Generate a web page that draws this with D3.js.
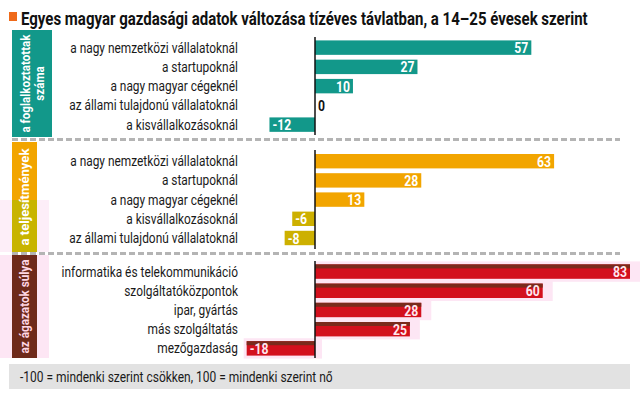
<!DOCTYPE html>
<html>
<head>
<meta charset="utf-8">
<script src="https://cdn.jsdelivr.net/npm/d3@7"></script>
<style>
  body { margin: 0; background: #fff; }
  text { font-family: "Roboto", "Liberation Sans", sans-serif; }
</style>
</head>
<body>
<div id="chart"></div>
<script>
// data
const titleText = "Egyes magyar gazdasági adatok változása tízéves távlatban, a 14–25 évesek szerint";
const noteText = "-100 = mindenki szerint csökken, 100 = mindenki szerint nő";

const groupNames = [["a foglalkoztatottak", "száma"], ["a teljesítmények"], ["az ágazatok súlya"]];

const cats1 = ["a nagy nemzetközi vállalatoknál", "a startupoknál", "a nagy magyar cégeknél", "az állami tulajdonú vállalatoknál", "a kisvállalkozásoknál"];
const vals1 = [57, 27, 10, 0, -12];

const cats2 = ["a nagy nemzetközi vállalatoknál", "a startupoknál", "a nagy magyar cégeknél", "a kisvállalkozásoknál", "az állami tulajdonú vállalatoknál"];
const vals2 = [63, 28, 13, -6, -8];

const cats3 = ["informatika és telekommunikáció", "szolgáltatóközpontok", "ipar, gyártás", "más szolgáltatás", "mezőgazdaság"];
const vals3 = [83, 60, 28, 25, -18];

const w = 640, h = 397;

const svg = d3.select("#chart").append("svg")
  .attr("width", w)
  .attr("height", h);

// measure a string so it can be squeezed to the condensed width of the original
function measure(str, size, weight) {
  const t = svg.append("text").attr("font-size", size).attr("font-weight", weight).text(str);
  const len = t.node().getComputedTextLength();
  t.remove();
  return len;
}

// condensed text: a group that is scaled on x only
function ctext(parent, x, y, str, size, weight, sx, anchor, fill) {
  const g = parent.append("g").attr("transform", `translate(${x},${y}) scale(${sx},1)`);
  g.append("text")
    .attr("text-anchor", anchor)
    .attr("font-size", size).attr("font-weight", weight).attr("fill", fill)
    .text(str);
  return g;
}

const labSx = 168 / measure("a nagy nemzetközi vállalatoknál", 14.5, "normal");
const valSx = 14 / measure("57", 15, "bold");

// x scale: zero line at 315
const xScale = d3.scaleLinear().domain([0, 83]).range([315, 630]);

// title
svg.append("rect").attr("x", 9).attr("y", 12).attr("width", 8).attr("height", 9).attr("fill", "#ef6a1a");
ctext(svg, 21, 25, titleText, 18, "bold", 567 / measure(titleText, 18, "bold"), "start", "#111");

// sections
const sections = [
  {cats: cats1, vals: vals1, name: groupNames[0], y0: 38, y1: 134.25, band: [12, 52, 30, 137], nameLen: 98,
   pos: "#12988a", neg: "#12988a", bandCol: ["#12988a"], txt: "#fff", valTxt: "#fff", axis: [37, 135]},
  {cats: cats2, vals: vals2, name: groupNames[1], y0: 151.6, y1: 247.6, band: [12, 37, 142, 252], nameLen: 97,
   pos: "#f2a500", neg: "#cdb000", bandCol: ["#f2a500", "#c8b400"], txt: "#fff", valTxt: "#fff", axis: [150, 249]},
  {cats: cats3, vals: vals3, name: groupNames[2], y0: 262, y1: 358, band: [12, 37, 255, 358], nameLen: 94,
   pos: "#d3101d", neg: "#d3101d", bandCol: ["#6e2a1a"], txt: "#ffd6e4", valTxt: "#ffe6ee", axis: [261, 358], halo: true}
];

// dashed separators
[139.5, 253.5].forEach(y => {
  svg.append("line")
    .attr("x1", 12).attr("x2", 620).attr("y1", y).attr("y2", y)
    .attr("stroke", "#b4b4b4").attr("stroke-width", 3)
    .attr("stroke-dasharray", "6,3");
});

sections.forEach((s) => {
  const g = svg.append("g");
  const yScale = d3.scaleBand().domain(s.cats).range([s.y0, s.y1])
    .paddingInner(0.25).paddingOuter(0.125);
  const data = s.cats.map((c, i) => ({cat: c, v: s.vals[i]}));

  // band on the left
  const [bx0, bx1, by0, by1] = s.band;
  if (s.halo) {
    g.append("rect").attr("x", 0).attr("y", by0).attr("width", bx1 + 12).attr("height", by1 - by0)
      .attr("fill", "#fde6f4");
  }
  if (s.bandCol.length === 2) {
    const mid = 200;
    g.append("rect").attr("x", 0).attr("y", mid).attr("width", bx1 + 12).attr("height", by1 - mid)
      .attr("fill", "#fdeef8");
    g.append("rect").attr("x", bx0).attr("y", by0).attr("width", bx1 - bx0).attr("height", mid - by0).attr("fill", s.bandCol[0]);
    g.append("rect").attr("x", bx0).attr("y", mid).attr("width", bx1 - bx0).attr("height", by1 - mid).attr("fill", s.bandCol[1]);
  } else {
    g.append("rect").attr("x", bx0).attr("y", by0).attr("width", bx1 - bx0).attr("height", by1 - by0).attr("fill", s.bandCol[0]);
  }
  const cx = (bx0 + bx1) / 2, cy = (by0 + by1) / 2;
  const nameSx = s.nameLen / measure(s.name[0], 13.5, "bold");
  s.name.forEach((line, li) => {
    const off = (li - (s.name.length - 1) / 2) * 14 + 4.5;
    const vg = g.append("g").attr("transform", `translate(${cx + off},${cy}) rotate(-90) scale(${nameSx},1)`);
    vg.append("text")
      .attr("text-anchor", "middle")
      .attr("font-size", 13.5).attr("font-weight", "bold").attr("fill", s.txt)
      .text(line);
  });

  // halo behind red bars
  if (s.halo) {
    g.selectAll(".halo").data(data).enter().append("rect")
      .attr("x", d => Math.min(xScale(d.v), xScale(0)) - (d.v < 0 ? 3 : 0))
      .attr("y", d => yScale(d.cat) - 3)
      .attr("width", d => Math.abs(xScale(d.v) - xScale(0)) + 10)
      .attr("height", yScale.bandwidth() + 6)
      .attr("fill", "#fde6f4");
  }

  // category labels
  data.forEach(d => {
    ctext(g, 238, yScale(d.cat) + yScale.bandwidth() / 2 + 5, d.cat, 14.5, "normal", labSx, "end", "#1a1a1a");
  });

  // bars
  g.selectAll(".bar").data(data.filter(d => d.v !== 0)).enter().append("rect")
    .attr("x", d => Math.min(xScale(d.v), xScale(0)))
    .attr("y", d => yScale(d.cat))
    .attr("width", d => Math.abs(xScale(d.v) - xScale(0)))
    .attr("height", yScale.bandwidth())
    .attr("fill", d => d.v < 0 ? s.neg : s.pos);

  if (s.halo) {
    // darker top stripe on the red bars
    g.selectAll(".stripe").data(data).enter().append("rect")
      .attr("x", d => Math.min(xScale(d.v), xScale(0)))
      .attr("y", d => yScale(d.cat))
      .attr("width", d => Math.abs(xScale(d.v) - xScale(0)))
      .attr("height", 4)
      .attr("fill", "#7a2a1c");
  }

  // value labels
  data.forEach(d => {
    const x = d.v > 0 ? xScale(d.v) - 3 : (d.v < 0 ? xScale(d.v) + 3 : xScale(0) + 3);
    ctext(g, x, yScale(d.cat) + yScale.bandwidth() / 2 + 5.5, d.v, 15, "bold", valSx,
      d.v > 0 ? "end" : "start", d.v === 0 ? "#111" : s.valTxt);
  });

  // zero line
  g.append("line")
    .attr("x1", xScale(0)).attr("x2", xScale(0))
    .attr("y1", s.axis[0]).attr("y2", s.axis[1])
    .attr("stroke", "#111").attr("stroke-width", 1.5);
});

// footer note
svg.append("rect").attr("x", 9).attr("y", 364).attr("width", 621).attr("height", 25).attr("fill", "#e2e2e2");
ctext(svg, 20, 382, noteText, 14, "normal", 313 / measure(noteText, 14, "normal"), "start", "#1a1a1a");
</script>
</body>
</html>
